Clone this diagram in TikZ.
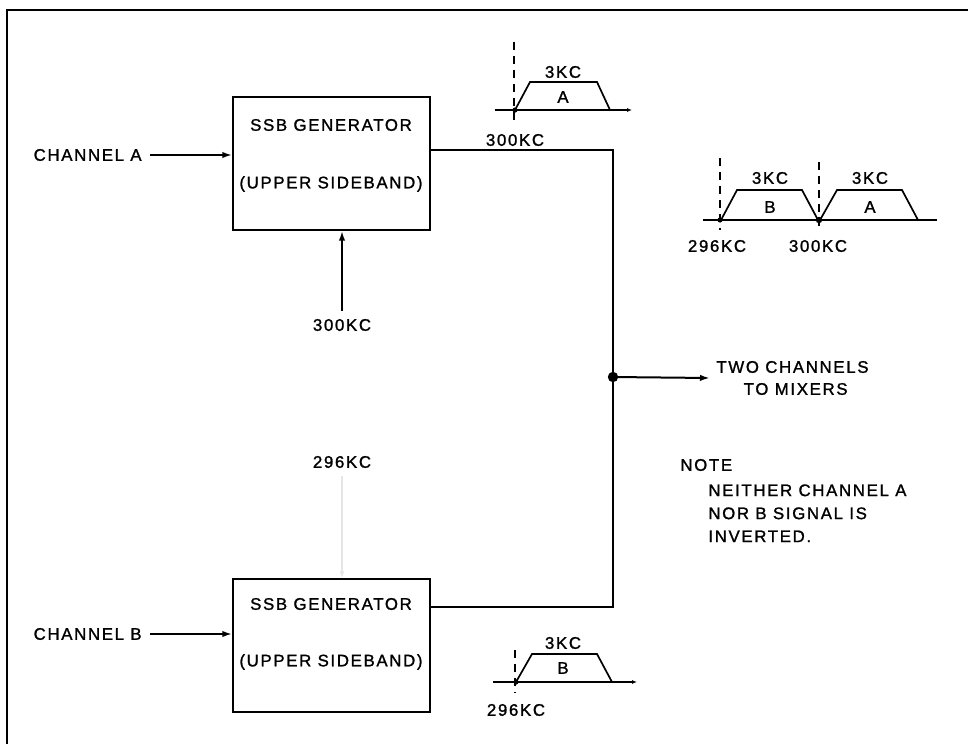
\documentclass[tikz,border=0pt]{standalone}
\usepackage{fontspec}
\setmainfont[LetterSpace=10,FakeBold=1.3]{Liberation Sans}
\usetikzlibrary{arrows.meta,calc}
\begin{document}
\begin{tikzpicture}[x=0.5pt,y=-0.5pt,
  lbl/.style={inner sep=0pt,font=\fontsize{8.4}{10}\selectfont},
  gen/.style={draw,line width=0.7pt,minimum width=98.5pt,minimum height=66.5pt,inner sep=0pt},
  wire/.style={line width=1pt},
  arr/.style={line width=1pt,-{Latex[length=5pt,width=3.2pt]}},
  spec/.style={line width=0.85pt},
  dashln/.style={line width=0.7pt,dash pattern=on 4pt off 3pt},
  faint/.style={line width=0.6pt,draw=black!10}]
\useasboundingbox (0,0) rectangle (968,744);
% frame
\draw[line width=1.1pt] (7,744) -- (7,10) -- (968,10);

% generators
\node[gen] (genA) at (331.5,163.5) {};
\node[gen] (genB) at (331.5,645.5) {};
\node[lbl] (tA1) at (331,125) {SSB GENERATOR};
\node[lbl] (tA2) at (331,184) {(UPPER SIDEBAND)};
\node[lbl] (tB1) at (331,604) {SSB GENERATOR};
\node[lbl] (tB2) at (331,662) {(UPPER SIDEBAND)};

% inputs
\node[lbl,anchor=east] (chA) at (142,155) {CHANNEL A};
\node[lbl,anchor=east] (chB) at (142,634) {CHANNEL B};
\draw[arr] ([xshift=4pt]chA.east) -- (chA.east -| genA.west);
\draw[arr] ([xshift=4pt]chB.east) -- (chB.east -| genB.west);

\node[lbl] (k300) at (342,325) {300KC};
\draw[arr] ([yshift=4pt]k300.north) -- (k300.north |- genA.south);
\node[lbl] (k296) at (342,462) {296KC};
\draw[faint,-{Latex[length=3.5pt,width=2.5pt]}] ([yshift=-4pt]k296.south) -- (k296.south |- genB.north);

% combining
\coordinate (j) at (613,377);
\draw[wire] ($(genA.east)+(0,-13.5)$) -| (j);
\draw[wire] ($(genB.east)+(0,-38.5)$) -| (j);
\fill (j) circle (2.6pt);
\node[lbl,align=center,anchor=west] (mix) at (716,378) {TWO CHANNELS\\[1pt]\ TO MIXERS};
\draw[arr] (j) -- ([xshift=-3pt]mix.west);

% note
\node[lbl,anchor=west] (note) at (680,465) {NOTE};
\node[lbl,anchor=north west,align=left] (notetxt) at (708,484) {NEITHER CHANNEL A\\[1.5pt]NOR B SIGNAL IS\\[1.5pt]INVERTED.};

% spectrum top (A at 300KC)
\draw[spec,-{Latex[length=2.5pt,width=2pt]}] (495,110) -- (632,110);
\draw[dashln] (514,42) -- (514,120);
\draw[spec] (515,110) -- (530,82) -- (597,82) -- (610,110);
\fill (515,110) circle (1.3pt);
\node[lbl] (s1k) at (563,72) {3KC};
\node[lbl] (s1a) at (563,97) {A};
\node[lbl] (s1f) at (515,140) {300KC};

% spectrum right (B and A)
\draw[spec] (703,220) -- (937,220);
\draw[dashln] (720,158) -- (720,230);
\draw[dashln] (819,162) -- (819,230);
\draw[spec] (721,220) -- (737,190) -- (802,190) -- (818,220);
\draw[spec] (820,220) -- (837,190) -- (902,190) -- (918,220);
\fill (720,220) circle (1.3pt);
\fill (819,220) circle (1.6pt);
\node[lbl] (s2k1) at (770,178) {3KC};
\node[lbl] (s2k2) at (870,178) {3KC};
\node[lbl] (s2b) at (770,207) {B};
\node[lbl] (s2a) at (870,207) {A};
\node[lbl] (s2f1) at (717,246) {296KC};
\node[lbl] (s2f2) at (818,246) {300KC};

% spectrum bottom (B at 296KC)
\draw[spec,-{Latex[length=2.5pt,width=2pt]}] (493,682) -- (637,682);
\draw[dashln] (515,650) -- (515,693);
\draw[spec] (516,682) -- (532,654) -- (597,654) -- (612,682);
\fill (516,682) circle (1.3pt);
\node[lbl] (s3k) at (563,643) {3KC};
\node[lbl] (s3b) at (563,668) {B};
\node[lbl] (s3f) at (516,710) {296KC};
\end{tikzpicture}
\end{document}
